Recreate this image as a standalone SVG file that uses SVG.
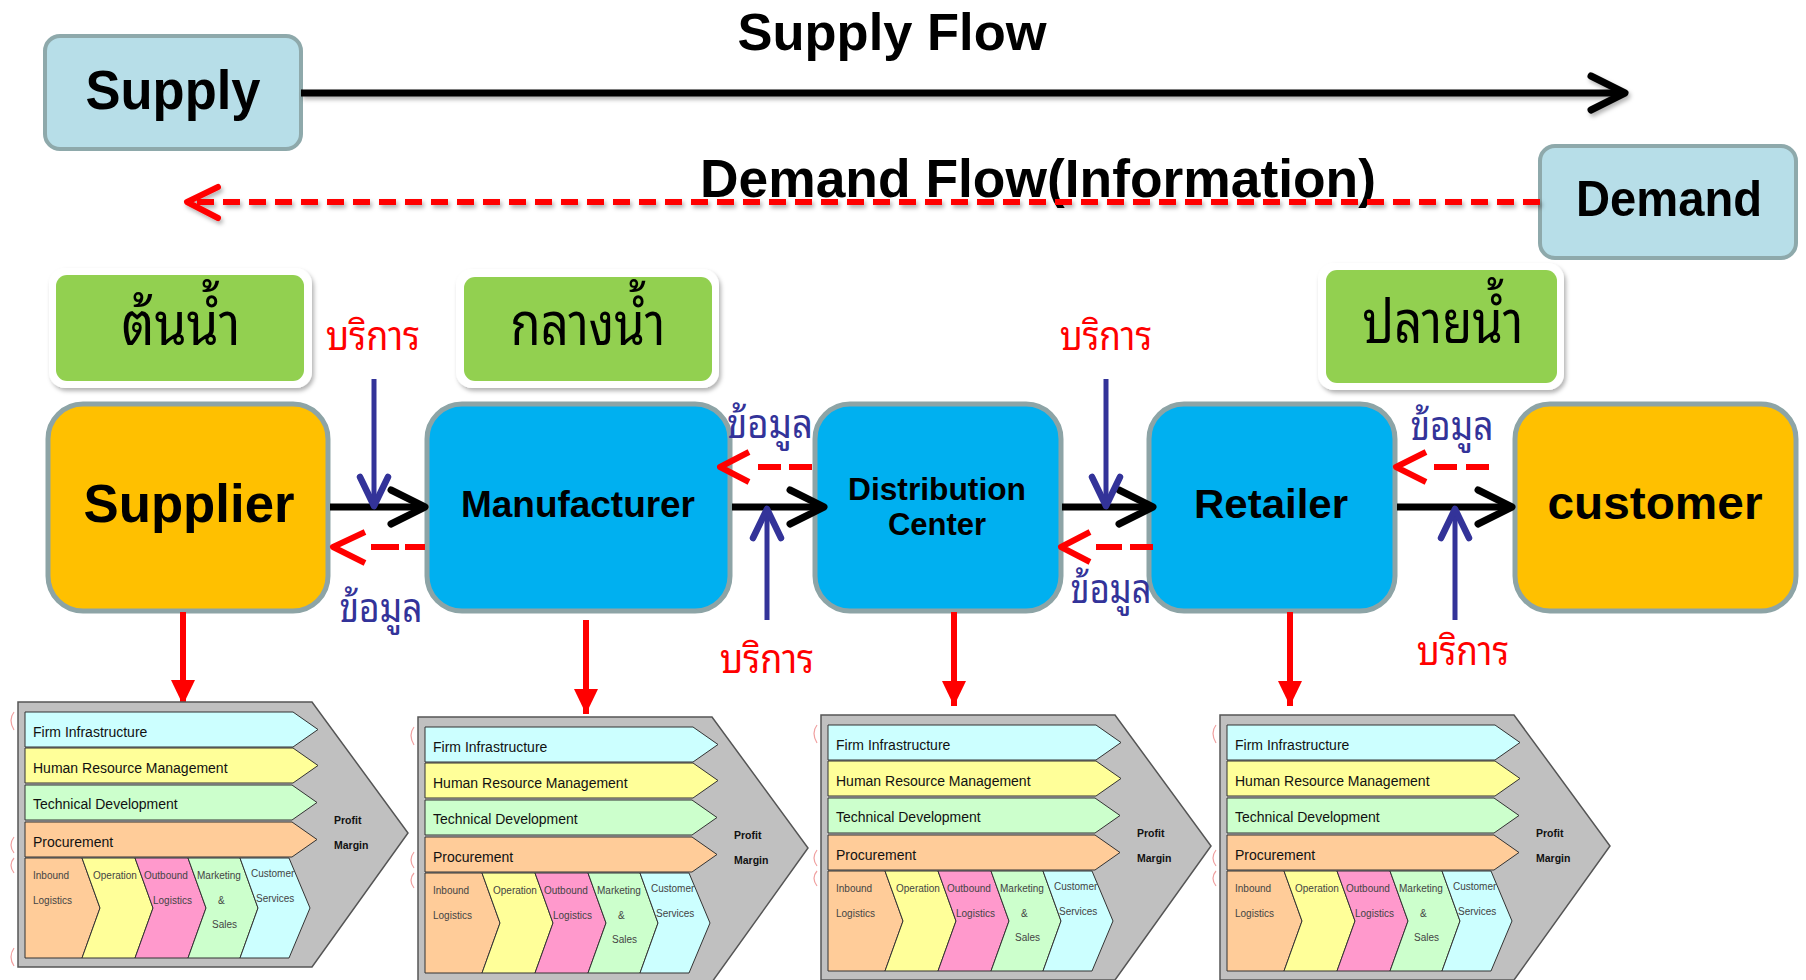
<svg xmlns="http://www.w3.org/2000/svg" width="1806" height="980" viewBox="0 0 1806 980">
<style>
.en{font-family:"Liberation Sans",Arial,sans-serif;font-weight:bold;fill:#000}
.th{font-family:"Noto Sans Thai Looped","Noto Serif Thai","Sarabun","TH Sarabun New","Garuda","Loma","Noto Sans Thai","Liberation Sans",sans-serif}
.tbox{font-size:60px;fill:#000}
.svc{font-size:40px;fill:#ff0000}
.inf{font-size:40px;fill:#333399}
.flowbox{fill:#b7dee8;stroke:#8ea9ab;stroke-width:4}
.main{stroke:#8da4a6;stroke-width:5}
.frame{fill:#ffffff}
.green{fill:#92d050}
.blk{stroke:#000;stroke-width:7;fill:none}
.blu{stroke:#333399;stroke-width:5;fill:none}
.red{stroke:#ff0000;stroke-width:6;fill:none}
.reds{stroke:#ff0000;stroke-width:6;fill:none}
.vcg{fill:#c0c0c0;stroke:#555;stroke-width:1.5}
.vcr{stroke:#333;stroke-width:1}
.vt{font-family:"Liberation Sans",Arial,sans-serif;font-size:14px;fill:#111}
.vs{font-family:"Liberation Sans",Arial,sans-serif;font-size:10px;fill:#444}
.vp{font-family:"Liberation Sans",Arial,sans-serif;font-size:10.5px;font-weight:bold;fill:#111}
.arc{fill:none;stroke:#f0a0a0;stroke-width:1.2}
</style>
<defs>
<filter id="sh" x="-20%" y="-20%" width="140%" height="160%">
<feDropShadow dx="2" dy="3" stdDeviation="2" flood-color="#000" flood-opacity="0.3"/>
</filter>
<marker id="mBlk" markerUnits="userSpaceOnUse" viewBox="-40 -22 46 44" markerWidth="46" markerHeight="44" refX="0" refY="0" orient="auto" overflow="visible">
<path d="M-34,-17 L0,0 L-34,17" fill="none" stroke="#000" stroke-width="7" stroke-linecap="round" stroke-linejoin="round"/>
</marker>
<marker id="mBlu" markerUnits="userSpaceOnUse" viewBox="-40 -22 46 44" markerWidth="46" markerHeight="44" refX="0" refY="0" orient="auto" overflow="visible">
<path d="M-30,-14 L-1,0 L-30,14" fill="none" stroke="#333399" stroke-width="6.5" stroke-linecap="round" stroke-linejoin="round"/>
</marker>
<marker id="mRedDn" markerUnits="userSpaceOnUse" viewBox="-30 -15 32 30" markerWidth="32" markerHeight="30" refX="0" refY="0" orient="auto" overflow="visible">
<path d="M0,0 L-25,-12 L-25,12 Z" fill="#ff0000"/>
</marker>
</defs>
<rect width="1806" height="980" fill="#ffffff"/>

<g id="supply">
<rect class="flowbox" x="45" y="36" width="256" height="113" rx="15"/>
<text class="en" x="173" y="109" font-size="56" text-anchor="middle" textLength="175" lengthAdjust="spacingAndGlyphs">Supply</text>
</g>
<g id="demand">
<rect class="flowbox" x="1540" y="146" width="256" height="112" rx="15"/>
<text class="en" x="1669" y="216" font-size="50" text-anchor="middle" textLength="186" lengthAdjust="spacingAndGlyphs">Demand</text>
</g>
<g id="labels-flow">
<text class="en" x="892" y="50" font-size="52" text-anchor="middle" textLength="309" lengthAdjust="spacingAndGlyphs">Supply Flow</text>
<text class="en" x="1038" y="197" font-size="53" text-anchor="middle" textLength="676" lengthAdjust="spacingAndGlyphs">Demand Flow(Information)</text>
</g>

<g id="upstream">
<rect class="frame" x="49" y="268" width="263" height="120" rx="16" filter="url(#sh)"/>
<rect class="green" x="56" y="275" width="248" height="106" rx="11"/>
<text class="th tbox" x="181" y="345" text-anchor="middle" textLength="119" lengthAdjust="spacingAndGlyphs">ต้นน้ำ</text>
</g>
<g id="midstream">
<rect class="frame" x="456" y="269" width="263" height="119" rx="16" filter="url(#sh)"/>
<rect class="green" x="464" y="277" width="248" height="104" rx="11"/>
<text class="th tbox" x="588" y="345" text-anchor="middle" textLength="155" lengthAdjust="spacingAndGlyphs">กลางน้ำ</text>
</g>
<g id="downstream">
<rect class="frame" x="1318" y="263" width="246" height="127" rx="16" filter="url(#sh)"/>
<rect class="green" x="1326" y="270" width="231" height="113" rx="11"/>
<text class="th tbox" x="1443" y="343" text-anchor="middle" textLength="161" lengthAdjust="spacingAndGlyphs">ปลายน้ำ</text>
</g>

<g id="supplier">
<rect class="main" x="48" y="404" width="280" height="207" rx="35" fill="#ffc000"/>
<text class="en" x="189" y="522" font-size="54" text-anchor="middle" textLength="211" lengthAdjust="spacingAndGlyphs">Supplier</text>
</g>
<g id="manufacturer">
<rect class="main" x="427" y="404" width="303" height="207" rx="35" fill="#00b0f0"/>
<text class="en" x="578" y="517" font-size="36" text-anchor="middle" textLength="234" lengthAdjust="spacingAndGlyphs">Manufacturer</text>
</g>
<g id="distribution">
<rect class="main" x="815" y="404" width="246" height="207" rx="35" fill="#00b0f0"/>
<text class="en" x="937" y="500" font-size="31" text-anchor="middle" textLength="178" lengthAdjust="spacingAndGlyphs">Distribution</text>
<text class="en" x="937" y="535" font-size="31" text-anchor="middle">Center</text>
</g>
<g id="retailer">
<rect class="main" x="1149" y="404" width="246" height="207" rx="35" fill="#00b0f0"/>
<text class="en" x="1271" y="518" font-size="41" text-anchor="middle" textLength="154" lengthAdjust="spacingAndGlyphs">Retailer</text>
</g>
<g id="customer">
<rect class="main" x="1515" y="404" width="281" height="207" rx="35" fill="#ffc000"/>
<text class="en" x="1655" y="519" font-size="46" text-anchor="middle" textLength="215" lengthAdjust="spacingAndGlyphs">customer</text>
</g>

<g id="connectors">
<g filter="url(#sh)">
<path class="blk" d="M301,93 H1625" marker-end="url(#mBlk)"/>
<path class="red" d="M1540,202 H195" stroke-dasharray="17 9"/>
<path class="red" d="M218,187 L187,202 L218,218" stroke-linecap="round" stroke-linejoin="round"/>
</g>
<path class="blk" d="M330,507 H425" marker-end="url(#mBlk)"/>
<path class="blk" d="M732,507 H824" marker-end="url(#mBlk)"/>
<path class="blk" d="M1062,507 H1153" marker-end="url(#mBlk)"/>
<path class="blk" d="M1397,507 H1512" marker-end="url(#mBlk)"/>
<path class="blu" d="M374,379 V507" marker-end="url(#mBlu)"/>
<path class="blu" d="M767,620 V508" marker-end="url(#mBlu)"/>
<path class="blu" d="M1106,379 V507" marker-end="url(#mBlu)"/>
<path class="blu" d="M1455,620 V508" marker-end="url(#mBlu)"/>
<path class="red" d="M425,547 H405 M399,547 H371 M365,532 L333,547 L365,563" stroke-linejoin="round"/>
<path class="red" d="M812,467 H789 M781,467 H758 M749,452 L720,467 L749,482" stroke-linejoin="round"/>
<path class="red" d="M1153,547 H1130 M1122,547 H1096 M1090,532 L1061,547 L1090,562" stroke-linejoin="round"/>
<path class="red" d="M1489,467 H1466 M1457,467 H1434 M1426,452 L1396,467 L1426,482" stroke-linejoin="round"/>
<path class="reds" d="M183,612 V705" marker-end="url(#mRedDn)"/>
<path class="reds" d="M586,620 V714" marker-end="url(#mRedDn)"/>
<path class="reds" d="M954,612 V706" marker-end="url(#mRedDn)"/>
<path class="reds" d="M1290,612 V706" marker-end="url(#mRedDn)"/>
</g>

<g id="connector-labels">
<text class="th svc" x="373" y="350" text-anchor="middle" textLength="94" lengthAdjust="spacingAndGlyphs">บริการ</text>
<text class="th svc" x="767" y="673" text-anchor="middle" textLength="94" lengthAdjust="spacingAndGlyphs">บริการ</text>
<text class="th svc" x="1106" y="350" text-anchor="middle" textLength="92" lengthAdjust="spacingAndGlyphs">บริการ</text>
<text class="th svc" x="1463" y="665" text-anchor="middle" textLength="92" lengthAdjust="spacingAndGlyphs">บริการ</text>
<text class="th inf" x="381" y="622" text-anchor="middle" textLength="83" lengthAdjust="spacingAndGlyphs">ข้อมูล</text>
<text class="th inf" x="770" y="438" text-anchor="middle" textLength="86" lengthAdjust="spacingAndGlyphs">ข้อมูล</text>
<text class="th inf" x="1111" y="603" text-anchor="middle" textLength="81" lengthAdjust="spacingAndGlyphs">ข้อมูล</text>
<text class="th inf" x="1452" y="440" text-anchor="middle" textLength="83" lengthAdjust="spacingAndGlyphs">ข้อมูล</text>
</g>

<g id="valuechain1">
<path class="arc" d="M14,712 Q8,720 14,730 M14,837 Q8,845 14,853 M14,858 Q8,865 14,873 M14,948 Q8,957 14,966"/>
<path class="vcg" d="M18,702 H312 L408,833 L312,967 H18 Z"/>
<path class="vcr" fill="#ccffff" d="M25,712 H293 L318,729.5 L293,747 H25 Z"/>
<path class="vcr" fill="#ffff99" d="M25,748 H293 L318,765.5 L293,783 H25 Z"/>
<path class="vcr" fill="#ccffcc" d="M25,785 H292 L317,802.5 L292,820 H25 Z"/>
<path class="vcr" fill="#ffcc99" d="M25,822 H292 L317,839.5 L292,857 H25 Z"/>
<path class="vcr" fill="#ffcc99" d="M25,858 H82 L100,908 L82,958 H25 Z"/>
<path class="vcr" fill="#ffff99" d="M82,858 H135 L153,908 L135,958 H82 L100,908 Z"/>
<path class="vcr" fill="#ff99cc" d="M135,858 H188 L206,908 L188,958 H135 L153,908 Z"/>
<path class="vcr" fill="#ccffcc" d="M188,858 H240 L258,908 L240,958 H188 L206,908 Z"/>
<path class="vcr" fill="#ccffff" d="M240,858 H289 L310,908 L289,958 H240 L258,908 Z"/>
<text class="vt" x="33" y="737">Firm Infrastructure</text>
<text class="vt" x="33" y="773">Human Resource Management</text>
<text class="vt" x="33" y="809">Technical Development</text>
<text class="vt" x="33" y="847">Procurement</text>
<text class="vs" x="33" y="879">Inbound</text>
<text class="vs" x="33" y="904">Logistics</text>
<text class="vs" x="93" y="879">Operation</text>
<text class="vs" x="144" y="879">Outbound</text>
<text class="vs" x="153" y="904">Logistics</text>
<text class="vs" x="197" y="879">Marketing</text>
<text class="vs" x="218" y="904">&amp;</text>
<text class="vs" x="212" y="928">Sales</text>
<text class="vs" x="251" y="877">Customer</text>
<text class="vs" x="256" y="902">Services</text>
<text class="vp" x="334" y="824">Profit</text>
<text class="vp" x="334" y="849">Margin</text>
</g>

<g id="valuechain2" transform="translate(400,15)">
<path class="arc" d="M14,712 Q8,720 14,730 M14,837 Q8,845 14,853 M14,858 Q8,865 14,873"/>
<path class="vcg" d="M18,702 H312 L408,833 L312,967 H18 Z"/>
<path class="vcr" fill="#ccffff" d="M25,712 H293 L318,729.5 L293,747 H25 Z"/>
<path class="vcr" fill="#ffff99" d="M25,748 H293 L318,765.5 L293,783 H25 Z"/>
<path class="vcr" fill="#ccffcc" d="M25,785 H292 L317,802.5 L292,820 H25 Z"/>
<path class="vcr" fill="#ffcc99" d="M25,822 H292 L317,839.5 L292,857 H25 Z"/>
<path class="vcr" fill="#ffcc99" d="M25,858 H82 L100,908 L82,958 H25 Z"/>
<path class="vcr" fill="#ffff99" d="M82,858 H135 L153,908 L135,958 H82 L100,908 Z"/>
<path class="vcr" fill="#ff99cc" d="M135,858 H188 L206,908 L188,958 H135 L153,908 Z"/>
<path class="vcr" fill="#ccffcc" d="M188,858 H240 L258,908 L240,958 H188 L206,908 Z"/>
<path class="vcr" fill="#ccffff" d="M240,858 H289 L310,908 L289,958 H240 L258,908 Z"/>
<text class="vt" x="33" y="737">Firm Infrastructure</text>
<text class="vt" x="33" y="773">Human Resource Management</text>
<text class="vt" x="33" y="809">Technical Development</text>
<text class="vt" x="33" y="847">Procurement</text>
<text class="vs" x="33" y="879">Inbound</text>
<text class="vs" x="33" y="904">Logistics</text>
<text class="vs" x="93" y="879">Operation</text>
<text class="vs" x="144" y="879">Outbound</text>
<text class="vs" x="153" y="904">Logistics</text>
<text class="vs" x="197" y="879">Marketing</text>
<text class="vs" x="218" y="904">&amp;</text>
<text class="vs" x="212" y="928">Sales</text>
<text class="vs" x="251" y="877">Customer</text>
<text class="vs" x="256" y="902">Services</text>
<text class="vp" x="334" y="824">Profit</text>
<text class="vp" x="334" y="849">Margin</text>
</g>

<g id="valuechain3" transform="translate(803,13)">
<path class="arc" d="M14,712 Q8,720 14,730 M14,837 Q8,845 14,853 M14,858 Q8,865 14,873"/>
<path class="vcg" d="M18,702 H312 L408,833 L312,967 H18 Z"/>
<path class="vcr" fill="#ccffff" d="M25,712 H293 L318,729.5 L293,747 H25 Z"/>
<path class="vcr" fill="#ffff99" d="M25,748 H293 L318,765.5 L293,783 H25 Z"/>
<path class="vcr" fill="#ccffcc" d="M25,785 H292 L317,802.5 L292,820 H25 Z"/>
<path class="vcr" fill="#ffcc99" d="M25,822 H292 L317,839.5 L292,857 H25 Z"/>
<path class="vcr" fill="#ffcc99" d="M25,858 H82 L100,908 L82,958 H25 Z"/>
<path class="vcr" fill="#ffff99" d="M82,858 H135 L153,908 L135,958 H82 L100,908 Z"/>
<path class="vcr" fill="#ff99cc" d="M135,858 H188 L206,908 L188,958 H135 L153,908 Z"/>
<path class="vcr" fill="#ccffcc" d="M188,858 H240 L258,908 L240,958 H188 L206,908 Z"/>
<path class="vcr" fill="#ccffff" d="M240,858 H289 L310,908 L289,958 H240 L258,908 Z"/>
<text class="vt" x="33" y="737">Firm Infrastructure</text>
<text class="vt" x="33" y="773">Human Resource Management</text>
<text class="vt" x="33" y="809">Technical Development</text>
<text class="vt" x="33" y="847">Procurement</text>
<text class="vs" x="33" y="879">Inbound</text>
<text class="vs" x="33" y="904">Logistics</text>
<text class="vs" x="93" y="879">Operation</text>
<text class="vs" x="144" y="879">Outbound</text>
<text class="vs" x="153" y="904">Logistics</text>
<text class="vs" x="197" y="879">Marketing</text>
<text class="vs" x="218" y="904">&amp;</text>
<text class="vs" x="212" y="928">Sales</text>
<text class="vs" x="251" y="877">Customer</text>
<text class="vs" x="256" y="902">Services</text>
<text class="vp" x="334" y="824">Profit</text>
<text class="vp" x="334" y="849">Margin</text>
</g>

<g id="valuechain4" transform="translate(1202,13)">
<path class="arc" d="M14,712 Q8,720 14,730 M14,837 Q8,845 14,853 M14,858 Q8,865 14,873"/>
<path class="vcg" d="M18,702 H312 L408,833 L312,967 H18 Z"/>
<path class="vcr" fill="#ccffff" d="M25,712 H293 L318,729.5 L293,747 H25 Z"/>
<path class="vcr" fill="#ffff99" d="M25,748 H293 L318,765.5 L293,783 H25 Z"/>
<path class="vcr" fill="#ccffcc" d="M25,785 H292 L317,802.5 L292,820 H25 Z"/>
<path class="vcr" fill="#ffcc99" d="M25,822 H292 L317,839.5 L292,857 H25 Z"/>
<path class="vcr" fill="#ffcc99" d="M25,858 H82 L100,908 L82,958 H25 Z"/>
<path class="vcr" fill="#ffff99" d="M82,858 H135 L153,908 L135,958 H82 L100,908 Z"/>
<path class="vcr" fill="#ff99cc" d="M135,858 H188 L206,908 L188,958 H135 L153,908 Z"/>
<path class="vcr" fill="#ccffcc" d="M188,858 H240 L258,908 L240,958 H188 L206,908 Z"/>
<path class="vcr" fill="#ccffff" d="M240,858 H289 L310,908 L289,958 H240 L258,908 Z"/>
<text class="vt" x="33" y="737">Firm Infrastructure</text>
<text class="vt" x="33" y="773">Human Resource Management</text>
<text class="vt" x="33" y="809">Technical Development</text>
<text class="vt" x="33" y="847">Procurement</text>
<text class="vs" x="33" y="879">Inbound</text>
<text class="vs" x="33" y="904">Logistics</text>
<text class="vs" x="93" y="879">Operation</text>
<text class="vs" x="144" y="879">Outbound</text>
<text class="vs" x="153" y="904">Logistics</text>
<text class="vs" x="197" y="879">Marketing</text>
<text class="vs" x="218" y="904">&amp;</text>
<text class="vs" x="212" y="928">Sales</text>
<text class="vs" x="251" y="877">Customer</text>
<text class="vs" x="256" y="902">Services</text>
<text class="vp" x="334" y="824">Profit</text>
<text class="vp" x="334" y="849">Margin</text>
</g>
</svg>
